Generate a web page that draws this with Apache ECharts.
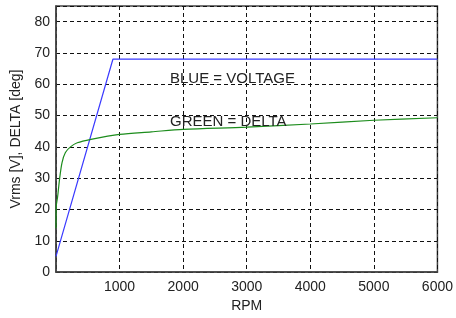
<!DOCTYPE html>
<html>
<head>
<meta charset="utf-8">
<script src="https://cdn.jsdelivr.net/npm/echarts@6/dist/echarts.min.js"></script>
<style>html,body{margin:0;padding:0;background:#fff;}#c{width:456px;height:318px;}</style>
</head>
<body>
<div id="c"></div>
<script>
var xTicks = [0, 1000, 2000, 3000, 4000, 5000, 6000];
var yTicks = [0, 10, 20, 30, 40, 50, 60, 70, 80];
var voltageRpm = [0, 895, 6000];
var voltageVal = [5, 68, 68];
var deltaRpm = [0, 4, 25, 58, 95, 148, 228, 335, 550, 1000, 1500, 2000, 3000, 4000, 5000, 6000];
var deltaVal = [14, 21, 24, 30, 35, 38.2, 40, 41.3, 42.4, 44, 44.8, 45.6, 46.3, 47.3, 48.5, 49.3];

var font = 'Liberation Sans, Arial, sans-serif';
var chart = echarts.init(document.getElementById('c'));
function pairs(xs, ys){ return xs.map(function(x,i){ return [x, ys[i]]; }); }
chart.setOption({
  animation: false,
  backgroundColor: '#ffffff',
  grid: { left: 56, top: 6, right: 18, bottom: 44, show: true, borderColor: '#444', borderWidth: 1.5, backgroundColor: 'transparent' },
  xAxis: {
    type: 'value', min: xTicks[0], max: xTicks[xTicks.length-1], interval: 1000,
    name: 'RPM', nameLocation: 'middle', nameGap: 25,
    nameTextStyle: { fontFamily: font, fontSize: 14, color: '#222' },
    axisLine: { show: true, lineStyle: { color: '#444', width: 1.5 } },
    axisTick: { show: false },
    axisLabel: { fontFamily: font, fontSize: 14, color: '#222', margin: 8,
      formatter: function(v){ return v === 0 ? '' : String(v); } },
    splitLine: { show: true, lineStyle: { color: '#111', type: [4, 3], width: 1 } }
  },
  yAxis: {
    type: 'value', min: 0, max: 85, interval: 10,
    name: 'Vrms [V], DELTA [deg]', nameLocation: 'middle', nameGap: 32,
    nameTextStyle: { fontFamily: font, fontSize: 14, color: '#222' },
    axisLine: { show: true, lineStyle: { color: '#444', width: 1.5 } },
    axisTick: { show: false },
    axisLabel: { fontFamily: font, fontSize: 14, color: '#222', margin: 6, showMaxLabel: false,
      formatter: function(v){ return yTicks.indexOf(v) >= 0 ? String(v) : ''; } },
    splitLine: { show: true, lineStyle: { color: '#111', type: [4, 3], width: 1 } }
  },
  graphic: [
    { type: 'text', left: 170, top: 71, style: { text: 'BLUE = VOLTAGE', font: '15px ' + font, fill: '#222' }, z: 10 },
    { type: 'text', left: 170, top: 114, style: { text: 'GREEN = DELTA', font: '15px ' + font, fill: '#222' }, z: 10 }
  ],
  series: [
    { type: 'line', data: pairs(voltageRpm, voltageVal), showSymbol: false, lineStyle: { color: '#3a3aff', width: 1.2 }, z: 3 },
    { type: 'line', data: pairs(deltaRpm, deltaVal), showSymbol: false, smooth: 0.3, lineStyle: { color: '#1c8c1c', width: 1.2 }, z: 4 }
  ]
});
</script>
</body>
</html>
